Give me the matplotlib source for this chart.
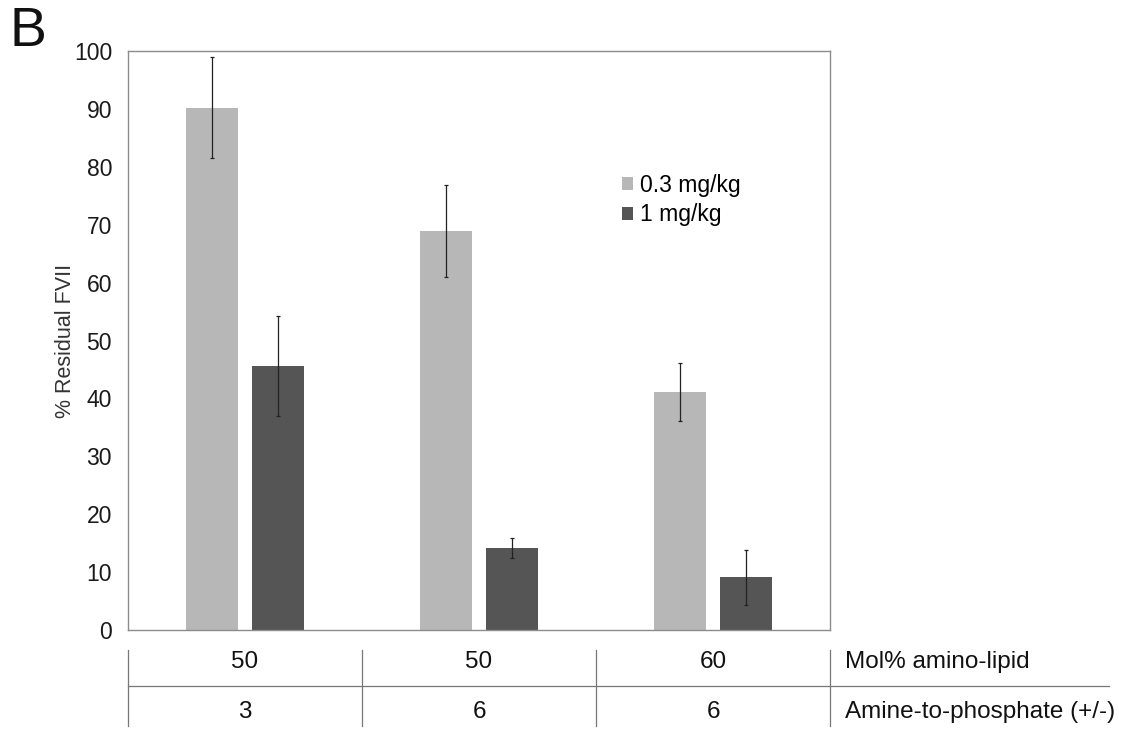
import matplotlib
matplotlib.use('Agg')
from matplotlib import pyplot as plt
import numpy as np

plt.rcParams['font.family'] = ['Liberation Sans', 'DejaVu Sans']

groups = ['g1', 'g2', 'g3']
low_dose = [90.2, 68.9, 41.1]
low_dose_err = [8.7, 7.9, 5.0]
high_dose = [45.6, 14.2, 9.1]
high_dose_err = [8.7, 1.7, 4.7]
mol_pct = ['50', '50', '60']
amine_ratio = ['3', '6', '6']
series_labels = ['0.3 mg/kg', '1 mg/kg']
row_labels = ['Mol% amino-lipid', 'Amine-to-phosphate (+/-)']

fig = plt.figure(figsize=(11.31, 7.34), dpi=100)
ax = fig.add_axes([0.1132, 0.1417, 0.6207, 0.7888])

x = np.arange(len(groups))
w = 0.222
off = 0.141
ax.bar(x - off, low_dose, w, color='#b7b7b7', label=series_labels[0])
ax.bar(x + off, high_dose, w, color='#555555', label=series_labels[1])
ax.errorbar(x - off, low_dose, yerr=low_dose_err, fmt='none', ecolor='#222222',
            elinewidth=0.9, capsize=1.5, capthick=0.9)
ax.errorbar(x + off, high_dose, yerr=high_dose_err, fmt='none', ecolor='#222222',
            elinewidth=0.9, capsize=1.5, capthick=0.9)

ax.set_xlim(-0.5, 2.5)
ax.set_ylim(0, 100)
ax.set_yticks(range(0, 101, 10))
ax.set_xticks([])
ax.tick_params(axis='y', length=0, pad=11.5, labelsize=16.5, labelcolor='#1a1a1a')
for s in ax.spines.values():
    s.set_color('#8c8c8c')
    s.set_linewidth(1.0)
ax.set_ylabel('% Residual FVII', fontsize=15.5, color='#333333')
ax.yaxis.set_label_coords(-0.074, 0.5)

ax.legend(loc='center left', bbox_to_anchor=(0.7037, 0.7427), frameon=False,
          fontsize=16.5, handlelength=0.5, handleheight=0.5, handletextpad=0.3,
          labelspacing=0.3, borderaxespad=0, borderpad=0)

# condition table under the bars
tr = ax.get_xaxis_transform()
for xv in [-0.5, 0.5, 1.5, 2.5]:
    ax.plot([xv, xv], [-0.0345, -0.166], color='#777777', lw=0.9,
            transform=tr, clip_on=False)
ax.plot([-0.5, 3.69], [-0.0967, -0.0967], color='#777777', lw=0.9,
        transform=tr, clip_on=False)
for i in range(len(groups)):
    ax.text(x[i], -0.0553, mol_pct[i], transform=tr, ha='center', va='center',
            fontsize=17.5, color='#111111')
    ax.text(x[i], -0.1416, amine_ratio[i], transform=tr, ha='center', va='center',
            fontsize=17.5, color='#111111')
ax.text(2.564, -0.0553, row_labels[0], transform=tr, ha='left', va='center',
        fontsize=17.5, color='#111111')
ax.text(2.564, -0.1416, row_labels[1], transform=tr, ha='left', va='center',
        fontsize=17.5, color='#111111')

fig.text(0.008, 0.956, 'B', fontsize=40, ha='left', va='center', color='#111111')

fig.savefig('out.png', dpi=100)
